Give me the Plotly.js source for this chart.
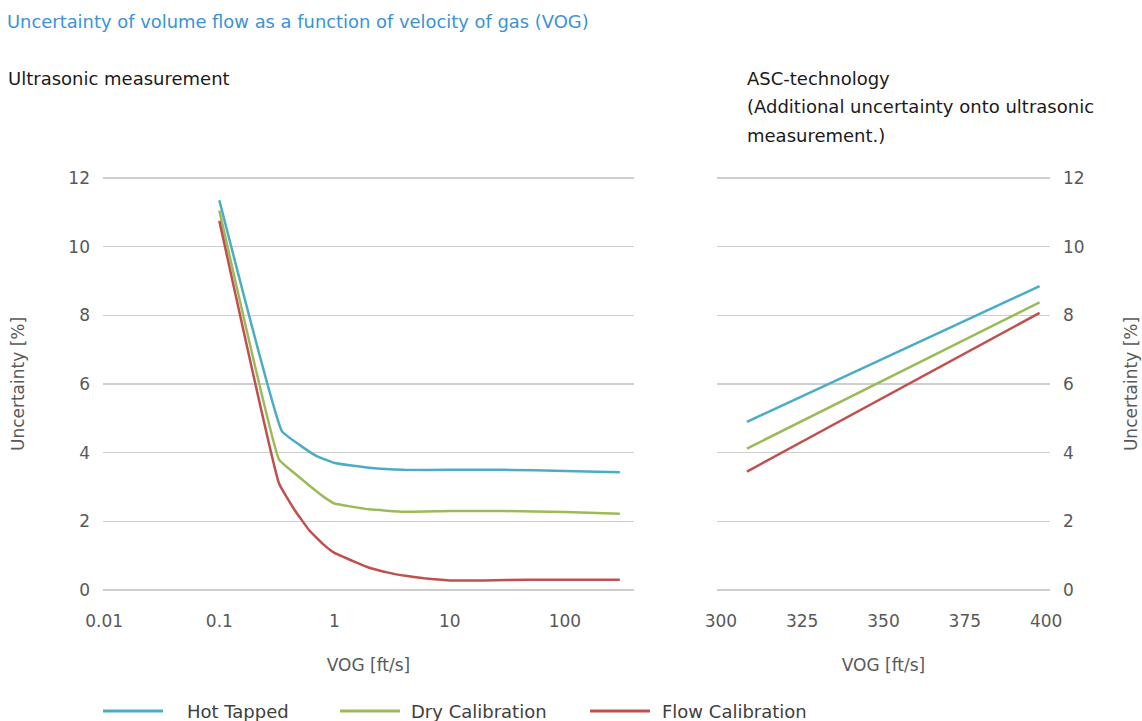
<!DOCTYPE html>
<html>
<head>
<meta charset="utf-8">
<script src="https://cdn.plot.ly/plotly-3.0.1.min.js"></script>
<style>
  html, body { margin: 0; padding: 0; background: #ffffff; }
  #chart { width: 1142px; height: 721px; }
</style>
</head>
<body>
<div id="chart"></div>
<script>
// ---- Data ----
const seriesNames = ["Hot Tapped", "Dry Calibration", "Flow Calibration"];

// Ultrasonic measurement (log VOG axis)
const hotTappedVog   = [0.1, 0.35, 0.5, 0.7, 1, 2, 4, 10, 30, 100, 300];
const hotTappedUnc   = [11.35, 4.62, 4.22, 3.9, 3.7, 3.56, 3.5, 3.5, 3.5, 3.47, 3.43];

const dryCalVog      = [0.1, 0.33, 0.45, 0.6, 0.8, 1, 2, 4, 10, 30, 100, 300];
const dryCalUnc      = [11.05, 3.8, 3.4, 3.05, 2.72, 2.52, 2.35, 2.28, 2.3, 2.3, 2.27, 2.22];

const flowCalVog     = [0.1, 0.33, 0.45, 0.6, 0.8, 1, 1.5, 2, 3, 4, 6, 10, 20, 50, 100, 300];
const flowCalUnc     = [10.75, 3.1, 2.33, 1.75, 1.33, 1.08, 0.82, 0.65, 0.5, 0.42, 0.34, 0.28, 0.28, 0.3, 0.3, 0.3];

// ASC-technology (linear VOG axis)
const ascVog         = [308, 398];
const ascHotTapped   = [4.9, 8.85];
const ascDryCal      = [4.12, 8.38];
const ascFlowCal     = [3.45, 8.07];

// Tick labels
const logTickVals  = [0.01, 0.1, 1, 10, 100];
const logTickText  = ["0.01", "0.1", "1", "10", "100"];
const linTickVals  = [300, 325, 350, 375, 400];
const yTickVals    = [0, 2, 4, 6, 8, 10, 12];

// ---- Styling ----
const colors = ["#4bacc6", "#9bbb59", "#c0504d"];
const W = 1142, H = 721;
const FONT = "DejaVu Sans";
const px = v => v / W;
const py = v => 1 - v / H;

const lineW = 2.5;
function tr(x, y, i, xa, ya, smooth) {
  const line = { color: colors[i], width: lineW };
  if (smooth) { line.shape = "spline"; line.smoothing = 0.3; }
  return { x: x, y: y, mode: "lines", type: "scatter", name: seriesNames[i],
           line: line, xaxis: xa, yaxis: ya,
           showlegend: false, hoverinfo: "x+y+name" };
}

const traces = [
  tr(hotTappedVog, hotTappedUnc, 0, "x", "y", true),
  tr(dryCalVog, dryCalUnc, 1, "x", "y", true),
  tr(flowCalVog, flowCalUnc, 2, "x", "y", true),
  tr(ascVog, ascHotTapped, 0, "x2", "y2", false),
  tr(ascVog, ascDryCal, 1, "x2", "y2", false),
  tr(ascVog, ascFlowCal, 2, "x2", "y2", false)
];

const gridColor = "#cecece";
const tickFont = { family: FONT, size: 17, color: "#595959" };
const titleFont = { family: FONT, size: 17, color: "#595959" };
const yDomain = [py(596.9), py(171.1)];

const yCommon = {
  range: [-0.2, 12.2], tickvals: yTickVals, showgrid: true, gridcolor: gridColor,
  gridwidth: 1.5, zeroline: false, showline: false, ticks: "",
  tickfont: tickFont, domain: yDomain, fixedrange: true
};

// Legend drawn as shapes + annotations (long line samples as in reference)
const legendY = py(711);
const legendItems = [
  { x0: 103, x1: 163, tx: 185 },
  { x0: 340, x1: 400, tx: 409 },
  { x0: 590, x1: 650, tx: 660 }
];
const shapes = legendItems.map((it, i) => ({
  type: "line", xref: "paper", yref: "paper",
  x0: px(it.x0), x1: px(it.x1), y0: legendY, y1: legendY,
  line: { color: colors[i], width: 3 }
}));
const legendAnn = legendItems.map((it, i) => ({
  text: seriesNames[i], xref: "paper", yref: "paper", x: px(it.tx), y: legendY,
  xanchor: "left", yanchor: "middle", showarrow: false,
  font: { family: FONT, size: 18, color: "#404040" }
}));

const subFont = { family: FONT, size: 18, color: "#1a1a1a" };
const subAnn = [
  { text: "Ultrasonic measurement", x: px(6), y: py(79) },
  { text: "ASC-technology", x: px(745), y: py(79) },
  { text: "(Additional uncertainty onto ultrasonic", x: px(745), y: py(107) },
  { text: "measurement.)", x: px(745), y: py(135) }
].map(a => Object.assign(a, { xref: "paper", yref: "paper", xanchor: "left",
      yanchor: "middle", showarrow: false, font: subFont }));

const layout = {
  width: W, height: H,
  margin: { l: 0, r: 0, t: 0, b: 0 },
  paper_bgcolor: "#ffffff", plot_bgcolor: "#ffffff",
  showlegend: false,
  title: {
    text: "Uncertainty of volume flow as a function of velocity of gas (VOG)",
    font: { family: FONT, size: 17.9, color: "#3a93d8" },
    x: px(7), xref: "paper", xanchor: "left",
    y: py(22), yref: "container", yanchor: "middle"
  },
  xaxis: {
    type: "log", range: [-2.01, 2.6], domain: [px(103), px(634)], anchor: "y",
    tickvals: logTickVals, ticktext: logTickText, showgrid: false, zeroline: false,
    showline: false, ticks: "", tickfont: tickFont, fixedrange: true,
    ticklabelstandoff: 12,
    title: { text: "VOG [ft/s]", font: titleFont, standoff: 29 }
  },
  yaxis: Object.assign({}, yCommon, {
    anchor: "x", side: "left", ticklabelstandoff: 12,
    title: { text: "Uncertainty [%]", font: titleFont, standoff: 39 }
  }),
  xaxis2: {
    range: [298.8, 401.2], domain: [px(717), px(1050)], anchor: "y2",
    tickvals: linTickVals, showgrid: false, zeroline: false, showline: false,
    ticks: "", tickfont: tickFont, fixedrange: true,
    ticklabelstandoff: 12,
    title: { text: "VOG [ft/s]", font: titleFont, standoff: 29 }
  },
  yaxis2: Object.assign({}, yCommon, {
    anchor: "x2", side: "right", ticklabelstandoff: 12,
    title: { text: "Uncertainty [%]", font: titleFont, standoff: 41 }
  }),
  shapes: shapes,
  annotations: subAnn.concat(legendAnn)
};

Plotly.newPlot("chart", traces, layout, { displayModeBar: false, staticPlot: true });
</script>
</body>
</html>
